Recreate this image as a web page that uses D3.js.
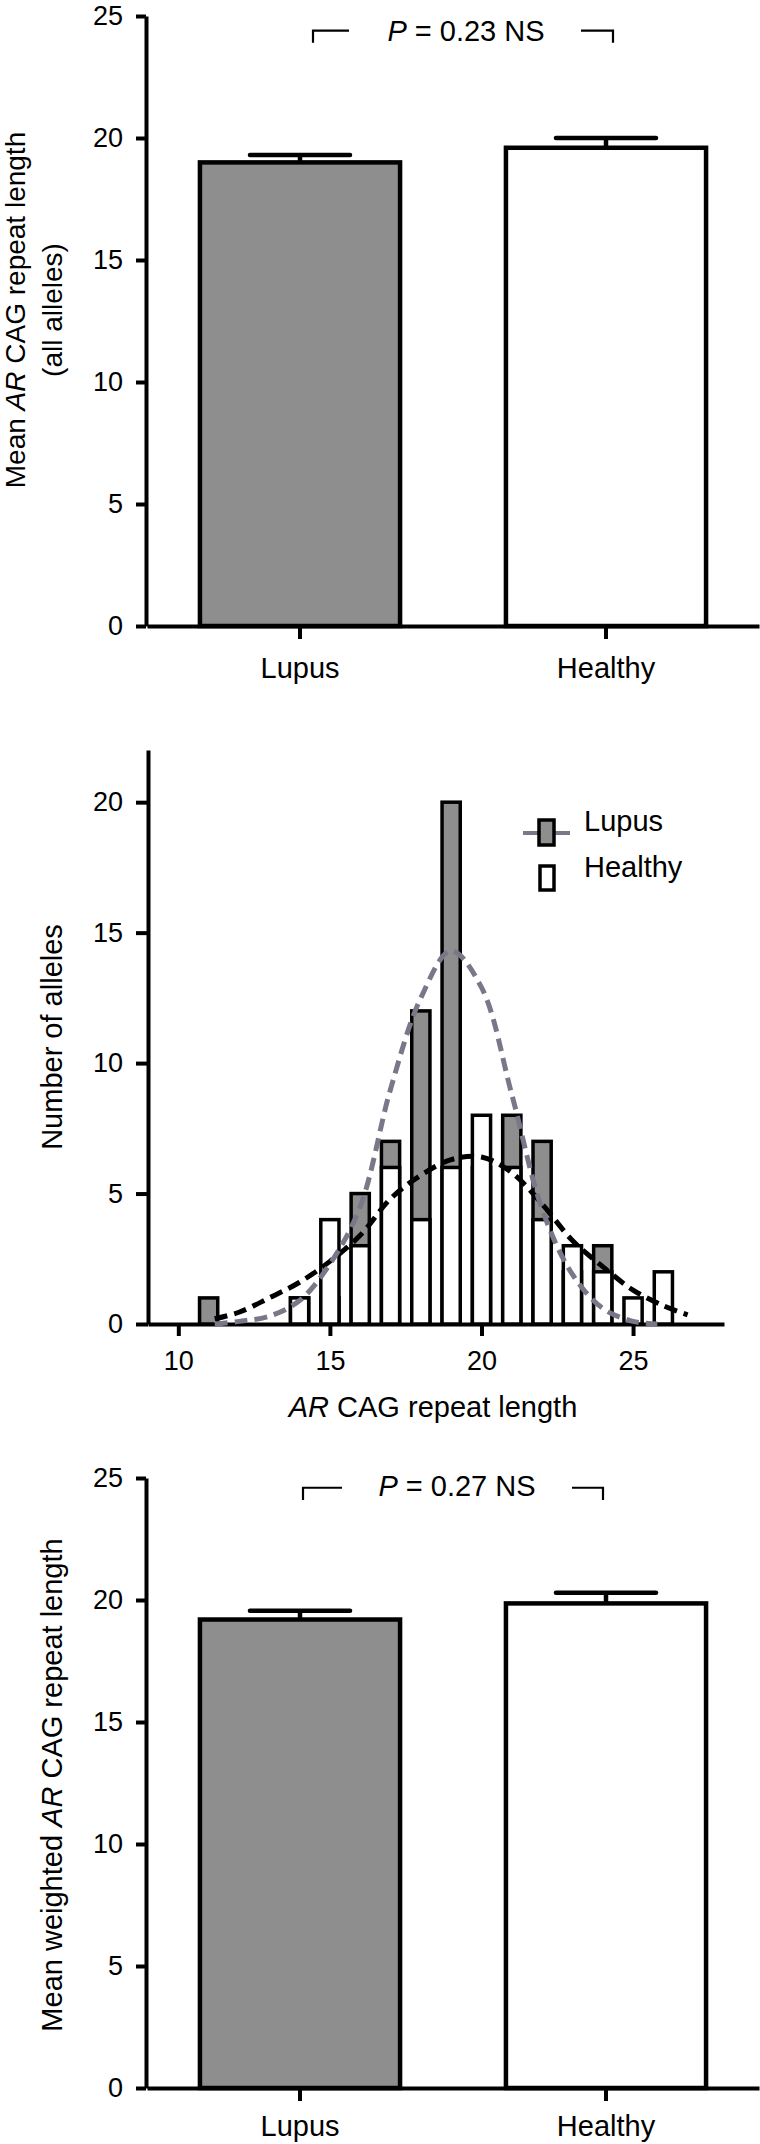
<!DOCTYPE html>
<html>
<head>
<meta charset="utf-8">
<script src="https://cdn.jsdelivr.net/npm/d3@7"></script>
<style>
  body { margin: 0; background: #fff; }
  text { font-family: "Liberation Sans", Arial, Helvetica, sans-serif; fill: #000; }
</style>
</head>
<body>
<div id="visContainer"></div>
<script>
// ---- data ----
var groups = ["Lupus", "Healthy"];

// top panel (all alleles)
var meanAll = [19.0, 19.6];
var semAll = [0.3, 0.4];

// bottom panel (weighted)
var meanWeighted = [19.2, 19.86];
var semWeighted = [0.36, 0.44];

var barTicks = [0, 5, 10, 15, 20, 25];

// middle panel: histogram of repeat lengths
var repeatLengths = [11, 12, 13, 14, 15, 16, 17, 18, 19, 20, 21, 22, 23, 24, 25, 26];
var lupusCounts   = [1, 0, 0, 1, 1, 5, 7, 12, 20, 6, 8, 7, 2, 3, 0, 0];
var healthyCounts = [0, 0, 0, 1, 4, 3, 6, 4, 6, 8, 6, 4, 3, 2, 1, 2];

// gaussian fits
var lupusFitX = [11.2, 12, 13, 14, 15, 16, 17, 18, 19, 20, 21, 22, 23, 24, 25, 25.8];
var lupusFitY = [0, 0.1, 0.3, 0.9, 2.3, 4.5, 9.0, 12.5, 14.3, 12.9, 8.8, 4.4, 1.9, 0.6, 0.1, 0];
var healthyFitX = [11.2, 12, 13, 14, 15, 16, 17, 18, 19, 20, 21, 22, 23, 24, 25, 26, 26.8];
var healthyFitY = [0.2, 0.45, 1.0, 1.6, 2.4, 3.4, 4.8, 5.7, 6.3, 6.4, 5.8, 4.6, 3.2, 2.2, 1.3, 0.7, 0.35];

var histYTicks = [0, 5, 10, 15, 20];
var histXTicks = [10, 15, 20, 25];

var grayFill = "#8e8e8e";
var curveGray = "#7c7689";

var svg = d3.select("#visContainer").append("svg")
    .attr("width", 760)
    .attr("height", 2144);

function styleAxis(ax, w) {
  ax.selectAll("path, line").attr("stroke", "#000").attr("stroke-width", w);
  ax.selectAll("text").style("font-size", "27px")
    .style("font-family", "'Liberation Sans', Arial, sans-serif");
}

function italicLabel(sel, pre, it, post) {
  if (pre) sel.append("tspan").text(pre);
  sel.append("tspan").style("font-style", "italic").text(it);
  sel.append("tspan").text(post);
}

// ---- bar panels ----
function barPanel(opt) {
  var g = svg.append("g");
  var y = d3.scaleLinear().domain([0, 25]).range([opt.bottom, opt.top]);
  var x = d3.scaleBand().domain(groups).range([147, 759])
      .paddingInner(0.346).paddingOuter(0.173);

  var yAx = g.append("g").attr("transform", "translate(146,0)")
    .call(d3.axisLeft(y).tickValues(barTicks).tickSize(10).tickPadding(13).tickSizeOuter(0));
  styleAxis(yAx, 4);

  var xAx = g.append("g").attr("transform", "translate(0," + opt.bottom + ")")
    .call(d3.axisBottom(x).tickSize(13).tickPadding(opt.catPad).tickSizeOuter(0));
  styleAxis(xAx, 4);
  xAx.selectAll("text").style("font-size", "29px");

  g.selectAll(".bar").data(groups).enter().append("rect")
    .attr("x", function(d) { return x(d); })
    .attr("y", function(d, i) { return y(opt.means[i]); })
    .attr("width", x.bandwidth())
    .attr("height", function(d, i) { return y(0) - y(opt.means[i]); })
    .attr("fill", function(d, i) { return i === 0 ? grayFill : "#fff"; })
    .attr("stroke", "#000")
    .attr("stroke-width", 4.5);

  // error bars
  groups.forEach(function(d, i) {
    var cx = x(d) + x.bandwidth() / 2;
    var top = y(opt.means[i] + opt.sems[i]);
    g.append("line").attr("x1", cx).attr("x2", cx)
      .attr("y1", y(opt.means[i])).attr("y2", top)
      .attr("stroke", "#000").attr("stroke-width", 4.5);
    g.append("line").attr("x1", cx - x.bandwidth() / 4).attr("x2", cx + x.bandwidth() / 4)
      .attr("y1", top).attr("y2", top)
      .attr("stroke", "#000").attr("stroke-width", 4.5).attr("stroke-linecap", "round");
  });

  // significance bracket
  var b = opt.bracket;
  g.append("path")
    .attr("d", "M" + b[0] + "," + y(opt.bracketLow) + "V" + y(opt.bracketHigh) + "H" + b[1] +
               "M" + b[2] + "," + y(opt.bracketHigh) + "H" + b[3] + "V" + y(opt.bracketLow))
    .attr("fill", "none").attr("stroke", "#000").attr("stroke-width", 2.2);
  var pt = g.append("text").attr("x", opt.pX).attr("y", y(opt.pY))
    .attr("text-anchor", "middle").style("font-size", "29px");
  italicLabel(pt, null, "P", " = " + opt.pText + " NS");

  // y label
  opt.ylabel.forEach(function(line) {
    var t = g.append("text")
      .attr("transform", "translate(" + line.x + "," + opt.labelMid + ") rotate(-90)")
      .attr("text-anchor", "middle").style("font-size", opt.labelSize + "px");
    if (line.italic) italicLabel(t, line.pre, line.italic, line.post);
    else t.text(line.pre);
  });
}

barPanel({
  top: 16, bottom: 626, catPad: 18,
  means: meanAll, sems: semAll,
  bracket: [313, 349, 581, 613], bracketHigh: 24.4, bracketLow: 23.9,
  pX: 466, pY: 23.97, pText: "0.23",
  labelMid: 310, labelSize: 28,
  ylabel: [{x: 25, pre: "Mean ", italic: "AR", post: " CAG repeat length"},
           {x: 62, pre: "(all alleles)"}]
});

barPanel({
  top: 1478, bottom: 2088, catPad: 14,
  means: meanWeighted, sems: semWeighted,
  bracket: [303, 342, 572, 603], bracketHigh: 24.6, bracketLow: 24.1,
  pX: 457, pY: 24.26, pText: "0.27",
  labelMid: 1785, labelSize: 29,
  ylabel: [{x: 62, pre: "Mean weighted ", italic: "AR", post: " CAG repeat length"}]
});

// ---- histogram panel ----
var h = svg.append("g");
var hx = d3.scaleLinear().domain([9, 28]).range([148, 724]);
var hy = d3.scaleLinear().domain([0, 22]).range([1324, 750]);
var bw = hx(0.6) - hx(0);

var hyAx = h.append("g").attr("transform", "translate(148,0)")
  .call(d3.axisLeft(hy).tickValues(histYTicks).tickSize(12).tickPadding(13).tickSizeOuter(0));
styleAxis(hyAx, 4);
var hxAx = h.append("g").attr("transform", "translate(0,1324)")
  .call(d3.axisBottom(hx).tickValues(histXTicks).tickSize(12).tickPadding(15).tickSizeOuter(0));
styleAxis(hxAx, 4);

function drawBars(counts, fill) {
  h.append("g").selectAll("rect")
    .data(repeatLengths.map(function(d, i) { return {x: d, n: counts[i]}; })
                       .filter(function(d) { return d.n > 0; }))
    .enter().append("rect")
    .attr("x", function(d) { return hx(d.x) - bw / 2; })
    .attr("y", function(d) { return hy(d.n); })
    .attr("width", bw)
    .attr("height", function(d) { return hy(0) - hy(d.n); })
    .attr("fill", fill)
    .attr("stroke", "#000")
    .attr("stroke-width", 3.5);
}
drawBars(lupusCounts, grayFill);
drawBars(healthyCounts, "#fff");

var line = d3.line()
  .x(function(d) { return hx(d[0]); })
  .y(function(d) { return hy(d[1]); })
  .curve(d3.curveCatmullRom);

h.append("path")
  .datum(healthyFitX.map(function(d, i) { return [d, healthyFitY[i]]; }))
  .attr("d", line).attr("fill", "none")
  .attr("stroke", "#000").attr("stroke-width", 5)
  .attr("stroke-dasharray", "13,7");
h.append("path")
  .datum(lupusFitX.map(function(d, i) { return [d, lupusFitY[i]]; }))
  .attr("d", line).attr("fill", "none")
  .attr("stroke", curveGray).attr("stroke-width", 5)
  .attr("stroke-dasharray", "13,7");

// legend
h.append("line").attr("x1", 523).attr("x2", 570).attr("y1", 833).attr("y2", 833)
  .attr("stroke", curveGray).attr("stroke-width", 4);
h.append("rect").attr("x", 539).attr("y", 820).attr("width", 15).attr("height", 25)
  .attr("fill", grayFill).attr("stroke", "#000").attr("stroke-width", 3.5);
h.append("rect").attr("x", 540).attr("y", 866).attr("width", 14).attr("height", 24)
  .attr("fill", "#fff").attr("stroke", "#000").attr("stroke-width", 3.5);
h.append("text").attr("x", 584).attr("y", 831).style("font-size", "29px").text("Lupus");
h.append("text").attr("x", 584).attr("y", 877).style("font-size", "29px").text("Healthy");

// axis titles
var xt = h.append("text").attr("x", 433).attr("y", 1417)
  .attr("text-anchor", "middle").style("font-size", "29px");
italicLabel(xt, null, "AR", " CAG repeat length");

h.append("text")
  .attr("transform", "translate(62,1037) rotate(-90)")
  .attr("text-anchor", "middle").style("font-size", "29px")
  .text("Number of alleles");
</script>
</body>
</html>
